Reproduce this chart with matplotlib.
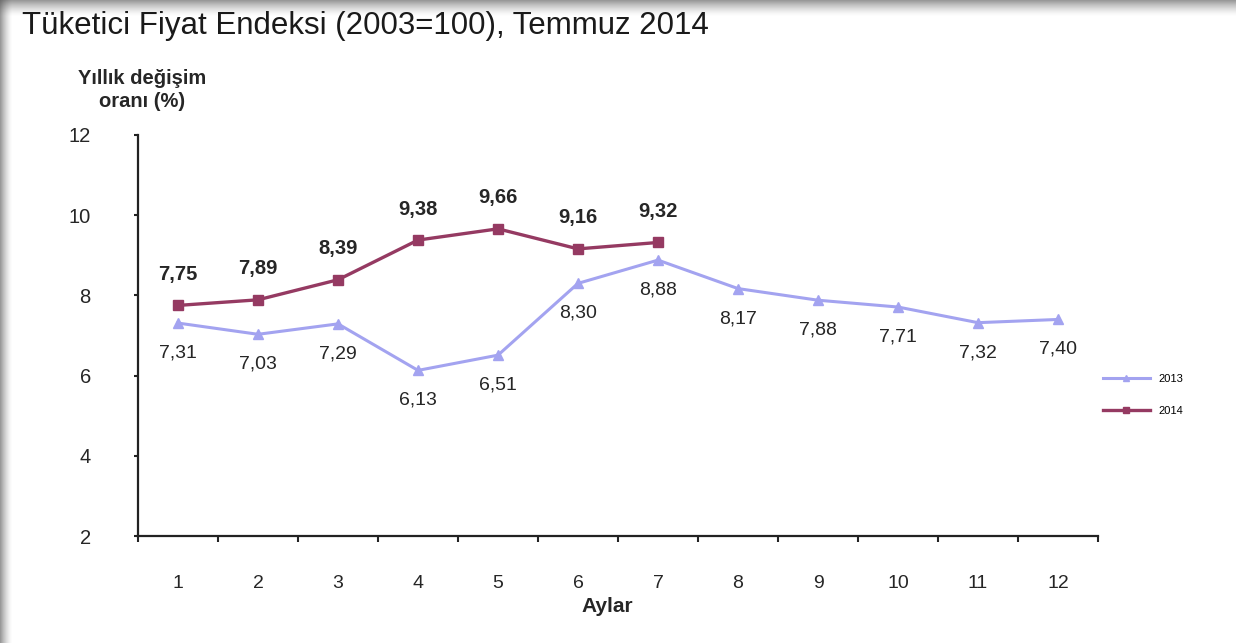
import matplotlib
matplotlib.use("Agg")
import matplotlib.pyplot as plt
import numpy as np
from matplotlib.patches import Rectangle

months = ["1", "2", "3", "4", "5", "6", "7", "8", "9", "10", "11", "12"]
values_2013 = [7.31, 7.03, 7.29, 6.13, 6.51, 8.30, 8.88, 8.17, 7.88, 7.71, 7.32, 7.40]
values_2014 = [7.75, 7.89, 8.39, 9.38, 9.66, 9.16, 9.32]
labels_2013 = ["7,31", "7,03", "7,29", "6,13", "6,51", "8,30", "8,88", "8,17", "7,88", "7,71", "7,32", "7,40"]
labels_2014 = ["7,75", "7,89", "8,39", "9,38", "9,66", "9,16", "9,32"]
yticks = [2, 4, 6, 8, 10, 12]

plt.rcParams['font.family'] = ['Liberation Sans', 'DejaVu Sans']

W, H = 1236, 643
fig = plt.figure(figsize=(W/100, H/100), dpi=100)
fig.patch.set_facecolor('white')

# gray frame (screenshot border) with gradient
for i in range(12):
    a = 0.6 * (1 - i/12) ** 1.5
    fig.add_artist(Rectangle((i/W, 0), 1/W, 1, transform=fig.transFigure,
                             color='#555555', alpha=a, lw=0))
for i in range(16):
    a = 0.6 * (1 - i/16) ** 1.5
    fig.add_artist(Rectangle((0, 1 - (i+1)/H), 1, 1/H, transform=fig.transFigure,
                             color='#555555', alpha=a, lw=0))

ax = fig.add_axes([138/W, 1-536/H, (1098-138)/W, (536-135)/H])
x = np.arange(len(months))
c13 = '#A3A3F0'
c14 = '#953A62'
l13, = ax.plot(x, values_2013, color=c13, lw=2.2, marker='^', ms=7, label='2013')
l14, = ax.plot(x[:len(values_2014)], values_2014, color=c14, lw=2.4, marker='s', ms=7, label='2014')

for xi, v, t in zip(x, values_2013, labels_2013):
    ax.annotate(t, (xi, v), xytext=(0, -30), textcoords='offset pixels',
                ha='center', va='center', fontsize=14, color='#262626')
for xi, v, t in zip(x, values_2014, labels_2014):
    ax.annotate(t, (xi, v), xytext=(0, 31), textcoords='offset pixels',
                ha='center', va='center', fontsize=14.5, color='#262626', fontweight='bold')

ax.set_xlim(-0.5, 11.5)
ax.set_ylim(2, 12)
ax.set_yticks(yticks)
ax.set_yticklabels([str(v) for v in yticks], fontsize=14.5, color='#262626')
ax.set_xticks(x)
ax.set_xticklabels(months, fontsize=14, color='#262626')
ax.tick_params(axis='x', length=0, pad=28)
ax.set_xticks(np.arange(-0.5, 12, 1), minor=True)
ax.tick_params(axis='x', which='minor', length=4, width=1.5, direction='out', color='#222222')
ax.tick_params(axis='y', length=3, width=1.5, direction='out', color='#222222', pad=31)
ax.spines['top'].set_visible(False)
ax.spines['right'].set_visible(False)
ax.spines['left'].set_linewidth(1.6)
ax.spines['bottom'].set_linewidth(1.6)
ax.spines['left'].set_color('#222222')
ax.spines['bottom'].set_color('#222222')

fig.text(22/W, 1-34/H, "Tüketici Fiyat Endeksi (2003=100), Temmuz 2014",
         fontsize=22.5, va='baseline', ha='left', color='#1a1a1a')
fig.text(142/W, 1-90/H, "Yıllık değişim\noranı (%)", fontsize=14.5, fontweight='bold',
         ha='center', va='center', linespacing=1.25, color='#262626')
fig.text(607/W, 1-607/H, "Aylar", fontsize=15, fontweight='bold', ha='center', va='center',
         color='#262626')

leg = fig.legend(handles=[l13, l14], loc='center left', bbox_to_anchor=(1093/W, 1-395/H),
                 frameon=False, fontsize=8, handlelength=4.2, labelspacing=2.0, markerscale=0.7)

fig.savefig('out.png', dpi=100)
